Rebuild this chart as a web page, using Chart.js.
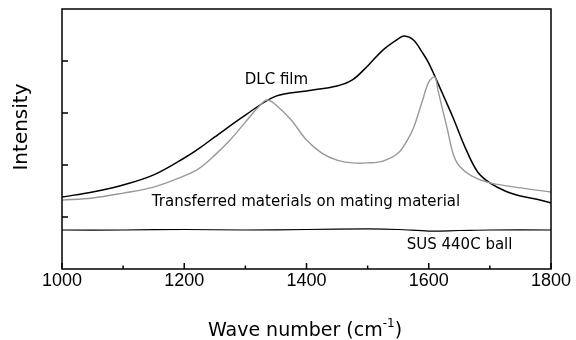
<!DOCTYPE html>
<html>
<head>
<meta charset="utf-8">
<script src="https://cdn.jsdelivr.net/npm/chart.js@4/dist/chart.umd.min.js"></script>
<style>
    html, body { margin: 0; padding: 0; background: #fff; }
    #wrap { width: 576px; height: 340px; }
</style>
</head>
<body>
<div id="wrap"><canvas id="ramanChart"></canvas></div>
<script>
// Raman spectra (intensity in arbitrary units, 0-100)
const dlcWave = [1000, 1050, 1100, 1150, 1200, 1225, 1250, 1300, 1350, 1400, 1450, 1475, 1500, 1525, 1550, 1560, 1575, 1590, 1600, 1620, 1640, 1660, 1680, 1700, 1725, 1750, 1775, 1800];
const dlcVals = [27.7, 29.6, 32.3, 36.2, 42.7, 46.5, 50.8, 59.2, 66.5, 68.5, 70.4, 72.7, 78.1, 84.2, 88.5, 89.6, 88.1, 83.1, 79.2, 68.8, 58.1, 46.5, 37.3, 33.1, 30.0, 28.1, 26.9, 25.4];

const transWave = [1000, 1050, 1100, 1150, 1200, 1225, 1250, 1275, 1300, 1320, 1335, 1350, 1375, 1400, 1425, 1450, 1475, 1500, 1525, 1550, 1565, 1575, 1590, 1600, 1610, 1615, 1630, 1640, 1650, 1670, 1700, 1750, 1800];
const transVals = [26.5, 27.3, 29.2, 31.5, 35.8, 38.8, 43.8, 49.6, 56.5, 61.9, 65.0, 63.1, 57.3, 49.6, 44.6, 41.9, 40.8, 40.8, 41.5, 44.6, 49.6, 54.2, 65.0, 71.9, 73.8, 68.8, 54.2, 44.2, 39.6, 35.8, 33.1, 31.2, 29.6];

const susWave = [1000, 1100, 1200, 1300, 1400, 1500, 1550, 1600, 1650, 1700, 1800];
const susVals = [15.0, 15.0, 15.2, 15.0, 15.2, 15.4, 15.2, 14.6, 14.8, 15.0, 15.0];

// Axis ticks
const xMajorTicks = [1000, 1200, 1400, 1600, 1800];
const xMinorTicks = [1100, 1300, 1500, 1700];
const yTicks = [20, 40, 60, 80];

// Curve labels: [text, wave number at left edge, intensity at baseline]
const curveLabels = [
    ['DLC film', 1299, 71.3],
    ['Transferred materials on mating material', 1147, 24.3],
    ['SUS 440C ball', 1564, 7.7]
];

const toPoints = (xs, ys) => xs.map((x, i) => ({ x: x, y: ys[i] }));

// Box, inward ticks, labels and axis titles
const framePlugin = {
    id: 'frame',
    afterDatasetsDraw(chart) {
        const { ctx, chartArea: a, scales: { x, y } } = chart;
        ctx.save();
        ctx.strokeStyle = '#000';
        ctx.lineWidth = 1.5;
        ctx.strokeRect(a.left, a.top, a.right - a.left, a.bottom - a.top);

        ctx.beginPath();
        xMajorTicks.forEach(v => {
            const px = x.getPixelForValue(v);
            ctx.moveTo(px, a.bottom);
            ctx.lineTo(px, a.bottom - 6);
        });
        xMinorTicks.forEach(v => {
            const px = x.getPixelForValue(v);
            ctx.moveTo(px, a.bottom);
            ctx.lineTo(px, a.bottom - 3.5);
        });
        yTicks.forEach(v => {
            const py = y.getPixelForValue(v);
            ctx.moveTo(a.left, py);
            ctx.lineTo(a.left + 6, py);
        });
        ctx.stroke();

        ctx.fillStyle = '#000';
        ctx.font = '15px "DejaVu Sans"';
        ctx.textAlign = 'left';
        ctx.textBaseline = 'alphabetic';
        curveLabels.forEach(([text, wn, val]) => {
            ctx.fillText(text, x.getPixelForValue(wn), y.getPixelForValue(val));
        });

        // x title with superscript
        const main = 'Wave number (cm';
        ctx.font = '19px "DejaVu Sans"';
        const wMain = ctx.measureText(main).width;
        const wEnd = ctx.measureText(')').width;
        ctx.font = '12px "DejaVu Sans"';
        const wSup = ctx.measureText('-1').width;
        const startX = 305 - (wMain + wSup + wEnd) / 2;
        const base = 336;
        ctx.font = '19px "DejaVu Sans"';
        ctx.fillText(main, startX, base);
        ctx.fillText(')', startX + wMain + wSup, base);
        ctx.font = '12px "DejaVu Sans"';
        ctx.fillText('-1', startX + wMain, base - 9);

        // y title
        ctx.save();
        ctx.translate(27, 127);
        ctx.rotate(-Math.PI / 2);
        ctx.textAlign = 'center';
        ctx.font = '20px "DejaVu Sans"';
        ctx.fillText('Intensity', 0, 0);
        ctx.restore();

        ctx.restore();
    }
};

const lineStyle = {
    pointRadius: 0,
    fill: false,
    tension: 0.35
};

new Chart(document.getElementById('ramanChart'), {
    type: 'line',
    data: {
        datasets: [
            Object.assign({
                label: 'Transferred materials on mating material',
                data: toPoints(transWave, transVals),
                borderColor: '#999999',
                borderWidth: 1.4
            }, lineStyle),
            Object.assign({
                label: 'DLC film',
                data: toPoints(dlcWave, dlcVals),
                borderColor: '#000',
                borderWidth: 1.5
            }, lineStyle),
            Object.assign({
                label: 'SUS 440C ball',
                data: toPoints(susWave, susVals),
                borderColor: '#000',
                borderWidth: 1.2
            }, lineStyle)
        ]
    },
    options: {
        responsive: true,
        maintainAspectRatio: false,
        animation: false,
        layout: { padding: { top: 9, right: 25, left: 0, bottom: 0 } },
        plugins: {
            legend: { display: false },
            tooltip: { enabled: false }
        },
        scales: {
            x: {
                type: 'linear',
                min: 1000,
                max: 1800,
                grid: { display: false, drawTicks: false },
                border: { display: false },
                ticks: {
                    stepSize: 200,
                    padding: 1,
                    color: '#000',
                    font: { family: '"Liberation Sans", Arial', size: 18 },
                    maxRotation: 0,
                    callback: (value) => String(value)
                },
                afterFit(scale) { scale.height = 71; }
            },
            y: {
                min: 0,
                max: 100,
                grid: { display: false, drawTicks: false },
                border: { display: false },
                ticks: { display: false },
                afterFit(scale) { scale.width = 62; }
            }
        }
    },
    plugins: [framePlugin]
});
</script>
</body>
</html>
